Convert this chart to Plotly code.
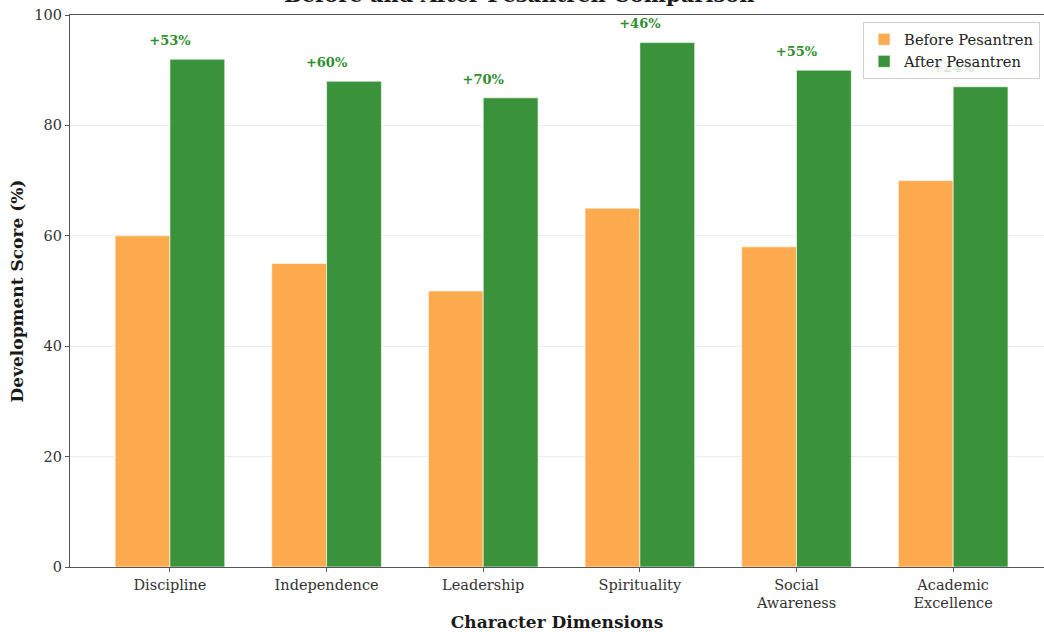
import plotly.graph_objects as go

# Character development scores before and after pesantren education
categories = ["Discipline", "Independence", "Leadership", "Spirituality",
              "Social<br>Awareness", "Academic<br>Excellence"]
before_scores = [60, 55, 50, 65, 58, 70]
after_scores = [92, 88, 85, 95, 90, 87]
gain_labels = ["+53%", "+60%", "+70%", "+46%", "+55%", "+24%"]
y_ticks = [0, 20, 40, 60, 80, 100]

SERIF = "DejaVu Serif"
ORANGE = "#FDAB4E"
GREEN = "#3A933A"
LABEL_GREEN = "#2F8F2F"

x_idx = list(range(len(categories)))
bar_w = 0.35

fig = go.Figure()
fig.add_trace(go.Bar(
    x=[i - bar_w / 2 for i in x_idx], y=before_scores, width=bar_w,
    name="Before Pesantren", marker=dict(color=ORANGE, line=dict(color="rgba(255,255,255,0.6)", width=1)),
))
fig.add_trace(go.Bar(
    x=[i + bar_w / 2 for i in x_idx], y=after_scores, width=bar_w,
    name="After Pesantren", marker=dict(color=GREEN, line=dict(color="rgba(255,255,255,0.6)", width=1)),
))
# improvement labels centred over each category, just above the "after" bar
fig.add_trace(go.Scatter(
    x=x_idx, y=[v + 2 for v in after_scores],
    mode="text", text=gain_labels, textposition="top center",
    textfont=dict(family=SERIF, size=13, color=LABEL_GREEN, weight="bold"),
    showlegend=False, hoverinfo="skip", cliponaxis=False,
))

# chart title sits at the very top edge of the canvas
fig.add_annotation(
    text="<b>Before and After Pesantren Comparison</b>",
    xref="paper", yref="paper", x=(519 - 70) / 974, y=1.038,
    xanchor="center", yanchor="middle", showarrow=False,
    font=dict(family=SERIF, size=21, color="#1a1a1a"),
)

fig.update_layout(
    width=1044, height=632,
    margin=dict(l=70, r=0, t=15, b=65),
    plot_bgcolor="white", paper_bgcolor="white",
    font=dict(family=SERIF, color="#333333", size=14),
    barmode="overlay",
    legend=dict(
        x=0.996, xanchor="right", y=0.987, yanchor="top",
        bgcolor="rgba(255,255,255,0.8)", bordercolor="#d0d0d0", borderwidth=1,
        font=dict(family=SERIF, size=14.7, color="#222222"),
        traceorder="normal", tracegroupgap=0,
    ),
    showlegend=True,
)

fig.update_xaxes(
    range=[-0.638, 5.58],
    tickmode="array", tickvals=x_idx, ticktext=categories,
    ticks="outside", ticklen=4, tickcolor="#555555",
    showline=True, linecolor="#555555", linewidth=1.2, mirror=True,
    showgrid=False, zeroline=False,
    tickfont=dict(family=SERIF, size=14.5, color="#333333"),
    title=dict(text="<b>Character Dimensions</b>",
               font=dict(family=SERIF, size=17, color="#1a1a1a"), standoff=8),
)
fig.update_yaxes(
    range=[0, 100],
    tickmode="array", tickvals=y_ticks,
    ticks="outside", ticklen=4, tickcolor="#555555",
    showline=True, linecolor="#555555", linewidth=1.2, mirror=False,
    showgrid=True, gridcolor="#ebebeb", gridwidth=1, zeroline=False,
    tickfont=dict(family=SERIF, size=14.5, color="#333333"),
    title=dict(text="<b>Development Score (%)</b>",
               font=dict(family=SERIF, size=17, color="#1a1a1a"), standoff=6),
)

fig.write_html("out.html")
